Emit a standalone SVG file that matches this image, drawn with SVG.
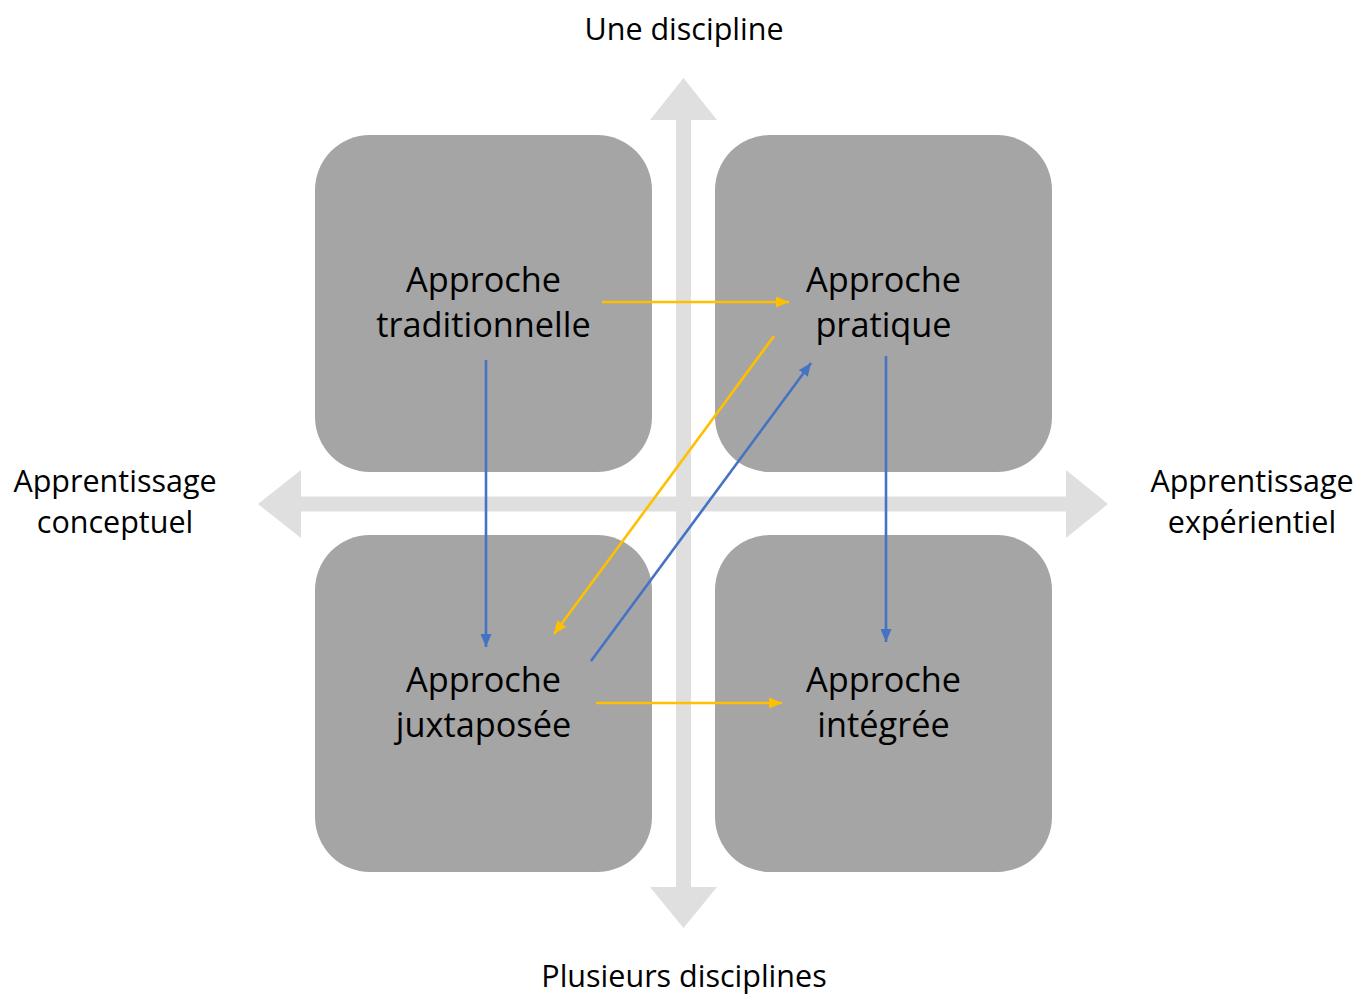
<svg xmlns="http://www.w3.org/2000/svg" width="1357" height="994" viewBox="0 0 1357 994">
<style>
.axis{fill:#dfdfdf}
.box{fill:#a5a5a5}
.t{font-family:"Open Sans","Liberation Sans",sans-serif;font-size:34.3px;fill:#000;text-anchor:middle}
.lab{font-family:"Open Sans","Liberation Sans",sans-serif;font-size:30.5px;fill:#000;text-anchor:middle}
.y{stroke:#ffc000;stroke-width:2.6;fill:none}
.b{stroke:#4472c4;stroke-width:2.6;fill:none}
</style>
<defs>
<marker id="ay" viewBox="0 0 13 11" refX="13" refY="5.5" markerWidth="13" markerHeight="11" markerUnits="userSpaceOnUse" orient="auto"><path d="M0,0 L13,5.5 L0,11 z" fill="#ffc000"/></marker>
<marker id="ab" viewBox="0 0 13 11" refX="13" refY="5.5" markerWidth="13" markerHeight="11" markerUnits="userSpaceOnUse" orient="auto"><path d="M0,0 L13,5.5 L0,11 z" fill="#4472c4"/></marker>
</defs>
<rect width="1357" height="994" fill="#fff"/>
<g id="axes">
<polygon class="axis" points="683.5,78 717,120 691,120 691,887 717,887 683.5,928 650,887 676,887 676,120 650,120"/>
<polygon class="axis" points="258,504 301,470 301,496.5 1066,496.5 1066,470 1108,504 1066,538 1066,511.5 301,511.5 301,538"/>
</g>
<g id="axis-labels">
<text class="lab" x="684" y="40">Une discipline</text>
<text class="lab" x="684" y="987">Plusieurs disciplines</text>
<text class="lab" x="115" y="492">Apprentissage</text>
<text class="lab" x="115" y="533">conceptuel</text>
<text class="lab" x="1252" y="492">Apprentissage</text>
<text class="lab" x="1252" y="533">expérientiel</text>
</g>
<g id="node-traditionnelle">
<rect class="box" x="315" y="135" width="337" height="337" rx="55"/>
<text class="t" x="483.5" y="292">Approche</text>
<text class="t" x="483.5" y="337">traditionnelle</text>
</g>
<g id="node-pratique">
<rect class="box" x="715" y="135" width="337" height="337" rx="55"/>
<text class="t" x="883.5" y="292">Approche</text>
<text class="t" x="883.5" y="337">pratique</text>
</g>
<g id="node-juxtaposee">
<rect class="box" x="315" y="535" width="337" height="337" rx="55"/>
<text class="t" x="483.5" y="692">Approche</text>
<text class="t" x="483.5" y="737">juxtaposée</text>
</g>
<g id="node-integree">
<rect class="box" x="715" y="535" width="337" height="337" rx="55"/>
<text class="t" x="883.5" y="692">Approche</text>
<text class="t" x="883.5" y="737">intégrée</text>
</g>
<g id="connectors">
<line class="y" x1="602" y1="302" x2="789" y2="302" marker-end="url(#ay)"/>
<line class="y" x1="774" y1="336" x2="554" y2="634" marker-end="url(#ay)"/>
<line class="b" x1="591" y1="661" x2="811" y2="363" marker-end="url(#ab)"/>
<line class="b" x1="486" y1="360" x2="486" y2="647" marker-end="url(#ab)"/>
<line class="b" x1="886" y1="356" x2="886" y2="642" marker-end="url(#ab)"/>
<line class="y" x1="596" y1="703" x2="782" y2="703" marker-end="url(#ay)"/>
</g>
</svg>
